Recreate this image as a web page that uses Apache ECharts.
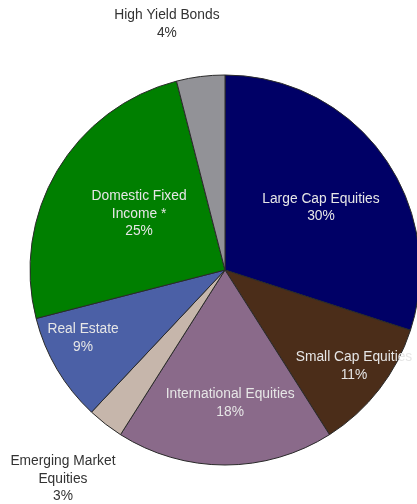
<!DOCTYPE html>
<html>
<head>
<meta charset="utf-8">
<title>Asset Allocation</title>
<script src="https://cdn.jsdelivr.net/npm/echarts@6/dist/echarts.min.js"></script>
<style>
  html, body { margin: 0; padding: 0; background: #ffffff; }
  #chart { width: 417px; height: 504px; }
</style>
</head>
<body>
<div id="chart"></div>
<script>
// Asset classes, clockwise from 12 o'clock
const categories = [
  'Large Cap Equities',
  'Small Cap Equities',
  'International Equities',
  'Emerging Market\nEquities',
  'Real Estate',
  'Domestic Fixed\nIncome *',
  'High Yield Bonds'
];
// Allocation weights (%)
const weights = [30, 11, 18, 3, 9, 25, 4];

// Presentation: slice colours and label placement
const sliceColors = ['#000066', '#4b2d19', '#8a6a8a', '#c6b6ab', '#4b60a6', '#007f00', '#929297'];
const labelInside = [true, true, true, false, true, true, false];
// label distance as a fraction of the radius, plus a small angular nudge (deg)
const labelRadial = [0.586, 0.825, 0.683, 1.356, 0.807, 0.526, 1.296];
const labelNudge  = [3.1, -1.1, -2.2, 0, 5, 2.5, -6.1];

const CX = 225, CY = 270, R = 195;

const total = weights.reduce((a, b) => a + b, 0);
const midAngles = [];
let acc = 0;
weights.forEach(w => { midAngles.push((acc + w / 2) / total * 360); acc += w; });

const chart = echarts.init(document.getElementById('chart'), null, { renderer: 'canvas' });
chart.setOption({
  animation: false,
  backgroundColor: '#ffffff',
  series: [{
    type: 'pie',
    center: [CX, CY],
    radius: [0, R],
    startAngle: 90,
    clockwise: true,
    avoidLabelOverlap: false,
    silent: true,
    itemStyle: { borderColor: '#2a2a2a', borderWidth: 1 },
    label: {
      show: true,
      position: 'inside',
      fontFamily: 'Liberation Sans, Arial, sans-serif',
      fontSize: 13.8,
      lineHeight: 17.5,
      align: 'center',
      formatter: p => p.name + '\n' + p.value + '%'
    },
    labelLine: { show: false },
    labelLayout: function (params) {
      const i = params.dataIndex;
      const a = (midAngles[i] + labelNudge[i]) * Math.PI / 180;
      const d = labelRadial[i] * R;
      return {
        x: CX + d * Math.sin(a),
        y: CY - d * Math.cos(a),
        align: 'center',
        verticalAlign: 'middle'
      };
    },
    data: categories.map((name, i) => ({
      name: name,
      value: weights[i],
      itemStyle: { color: sliceColors[i] },
      label: { color: labelInside[i] ? '#e6e6e6' : '#333333' }
    }))
  }]
});
</script>
</body>
</html>
